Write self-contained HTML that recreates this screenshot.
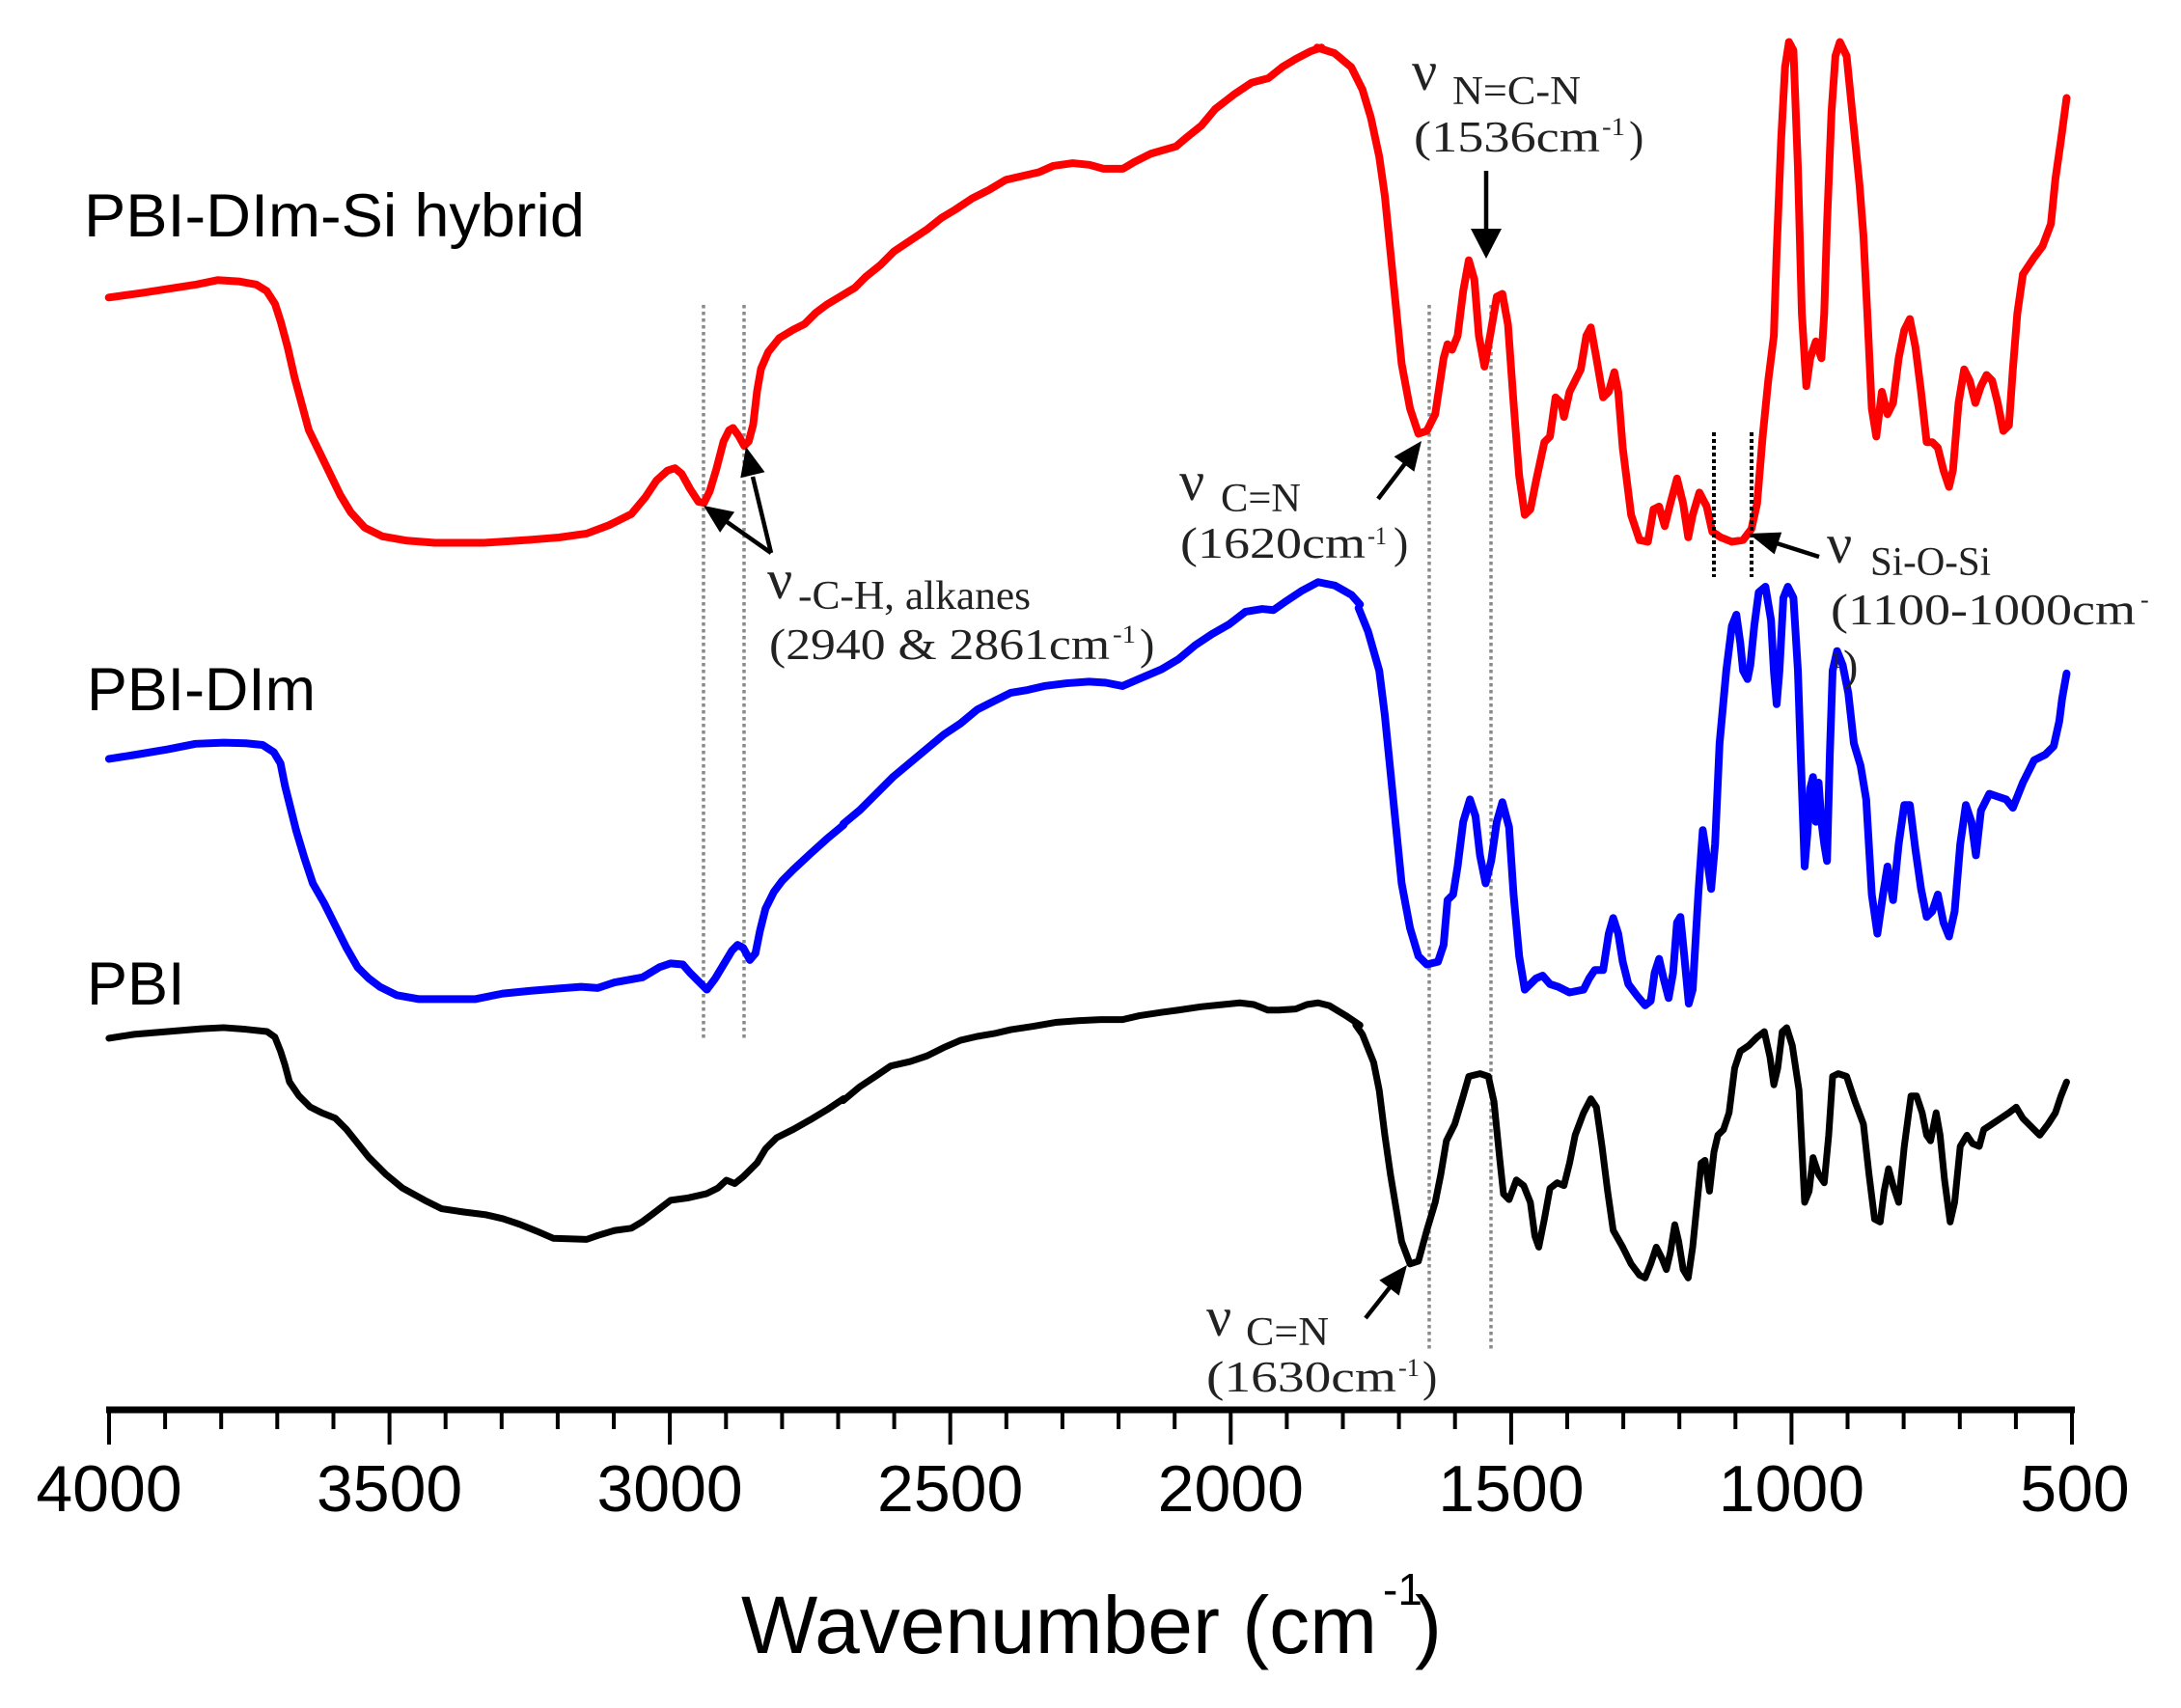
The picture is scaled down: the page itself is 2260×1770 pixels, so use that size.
<!DOCTYPE html>
<html><head><meta charset="utf-8"><style>
html,body{margin:0;padding:0;background:#fff;}
svg{display:block;}
.sans{font-family:"Liberation Sans",Arial,sans-serif;}
.ser{font-family:"Liberation Serif","Times New Roman",serif;fill:#222;}
.cv{fill:none;stroke-linejoin:round;stroke-linecap:round;}
</style></head><body>
<svg width="2260" height="1770" viewBox="0 0 2260 1770" xmlns="http://www.w3.org/2000/svg">
<rect width="2260" height="1770" fill="#fff"/>

<g stroke="#8a8a8a" stroke-width="3.5" stroke-dasharray="3.5 3.5" fill="none">
<line x1="729" y1="316" x2="729" y2="1079"/>
<line x1="771" y1="316" x2="771" y2="1079"/>
<line x1="1481" y1="316" x2="1481" y2="1398"/>
<line x1="1545" y1="316" x2="1545" y2="1398"/>
</g>

<!-- RED -->
<g class="cv" stroke="#ff0000">
<path stroke-width="8" d="M112.7,308.3 L145.4,303.8 174.5,299.3 203.6,294.8 225.4,290.3 247.2,291.6 265.4,294.8 276.3,301.5 285,315 290.8,333 298.1,360 305.3,391.5 312.6,418.5 319.9,445.5 330.8,468 341.7,490.5 352.6,513 363.5,531 378,546.8 396.2,555.8 421.7,560.3 450.7,562.5 501.6,562.5 549.6,559.4"/>
<path stroke-width="13.8" transform="translate(550,0) scale(0.579)" d="M0,966 L50,962 100,955 140,940 180,920 205,890 225,860 245,842 258,838 270,848 285,875 300,898 310,900 320,880 332,840 345,790 355,770 362,766 372,780 382,798 390,790 398,760 405,700 412,660 425,630 445,605 470,590 490,580 510,560 530,545 555,530 580,515 600,495 625,475 650,450 680,430 710,410 735,390 760,375 790,355 820,340 850,322 880,315 910,308 935,297 970,292 1000,295 1025,302 1060,302 1080,290 1110,275 1155,262 1175,245 1200,225 1225,195 1260,168 1290,148 1320,140 1345,120 1370,105 1395,92 1415,85"/>
<path stroke-width="13.8" transform="translate(1348,0) scale(0.58)" d="M29,85 L60,95 90,120 110,160 125,210 140,280 150,350 160,450 170,550 180,650 195,730 210,775 225,770 240,740 255,640 262,615 270,625 280,600 290,520 300,465 310,500 318,600 328,655 338,600 350,530 360,525 370,580 380,720 390,850 400,920 410,910 420,860 435,790 445,780 455,710 465,720 470,745 480,700 490,680 500,660 510,600 518,585 528,640 540,710 550,700 560,665 567,700 575,800 590,920 605,965 620,968 630,910 640,905 650,940 660,900 672,855 683,900 692,960 700,920 712,880 725,905 735,950 750,960 770,968 790,965 805,945 815,900 825,780 835,680 845,600 850,450 858,250 865,120 872,75 880,90 888,300 895,560 903,690 910,640 920,610 930,640 935,560 940,400 948,200 955,100 963,75 975,100 985,200 998,330 1005,420 1012,560 1020,730 1028,780 1038,700 1048,740 1058,720 1068,640 1078,590 1088,570 1098,620 1108,700 1118,790 1128,790 1138,800 1148,840 1158,870 1165,840 1175,720 1185,660 1195,680 1205,720 1215,690 1225,670 1235,680 1245,720 1255,770 1265,760 1272,660 1280,560 1290,490 1310,460 1325,440 1340,400 1348,320 1358,250 1368,175"/>
</g>

<!-- BLUE -->
<g class="cv" stroke="#0000ff">
<path stroke-width="13.8" transform="translate(0,600) scale(0.579)" d="M195,322 L240,315 300,305 350,295 400,293 440,294 470,297 490,310 502,330 510,370 520,410 530,450 545,500 560,545 580,580 600,620 620,660 640,695 660,715 680,730 710,745 750,752 850,752 900,742 950,737 1000,733 1040,730 1070,732 1100,722 1150,713 1180,695 1200,688 1222,690 1235,705 1250,720 1265,735 1280,715 1295,690 1310,665 1320,655 1330,660 1342,682 1352,670 1360,630 1370,590 1385,560 1400,540 1420,520 1450,492 1480,465 1510,440"/>
<path stroke-width="13.8" transform="translate(700,550) scale(0.579)" d="M300,525 L330,500 360,470 390,440 420,415 450,390 480,365 510,345 540,320 570,305 600,290 630,285 660,278 700,273 740,270 770,272 800,278 830,265 870,248 900,230 930,205 960,185 990,168 1020,145 1050,140 1070,142 1090,128 1120,108 1150,92 1180,98 1210,115 1225,132"/>
<path stroke-width="13.8" transform="translate(1348,550) scale(0.58)" d="M103,138 L120,180 140,250 150,330 160,430 170,530 180,630 195,710 210,760 225,775 245,770 255,740 262,660 272,650 280,600 290,520 302,480 312,510 320,580 330,630 340,590 350,520 360,485 372,530 380,650 390,760 400,820 420,800 432,795 445,810 460,815 480,825 505,820 515,800 525,785 540,785 550,720 558,692 567,720 575,770 585,810 600,830 615,848 625,840 632,790 640,765 648,800 657,835 665,790 672,700 678,690 685,760 693,845 700,820 710,650 718,535 725,580 733,640 740,560 748,380 760,250 770,170 778,150 785,200 790,250 798,265 803,240 810,170 818,110 830,100 840,160 845,250 850,310 855,250 862,120 870,100 880,120 888,250 893,400 900,600 905,540 910,460 915,440 920,520 925,450 930,520 935,560 940,590 945,400 950,250 958,215 968,240 978,290 988,380 1000,420 1010,480 1020,650 1030,720 1040,650 1048,600 1058,660 1068,560 1078,490 1088,490 1098,570 1108,640 1118,690 1128,680 1138,650 1148,700 1158,725 1168,680 1178,560 1188,490 1198,520 1206,580 1215,500 1230,470 1245,475 1260,480 1272,495 1290,450 1310,410 1330,400 1345,385 1355,340 1360,300 1368,255"/>
</g>

<!-- BLACK -->
<g class="cv" stroke="#000">
<path stroke-width="12.1" transform="translate(0,600) scale(0.579)" d="M195,822 L240,815 300,810 360,805 400,803 440,806 478,810 492,820 502,845 510,870 518,900 535,925 555,945 575,955 600,965 620,985 640,1010 660,1035 690,1065 720,1090 760,1112 790,1127 830,1133 870,1138 900,1145 930,1155 960,1167 990,1180 1050,1182 1070,1175 1100,1166 1130,1162 1150,1150 1170,1135 1200,1112 1230,1108 1265,1100 1285,1090 1300,1076 1315,1082 1330,1070 1355,1045 1370,1020 1390,1000 1420,985 1450,968 1480,950 1510,930"/>
<path stroke-width="12.1" transform="translate(700,550) scale(0.579)" d="M300,1020 L330,995 360,975 385,958 420,950 450,940 480,925 510,912 540,905 570,900 600,893 640,887 680,880 720,877 760,875 800,875 830,868 870,862 900,858 940,852 980,848 1010,845 1035,848 1060,858 1080,858 1110,856 1130,848 1150,845 1170,850 1200,868 1225,885"/>
<path stroke-width="12.1" transform="translate(1348,550) scale(0.58)" d="M98,883 L110,900 130,950 140,1000 150,1080 160,1150 170,1210 180,1270 195,1310 210,1305 225,1250 240,1200 250,1150 260,1090 275,1060 290,1010 300,975 320,970 335,975 345,1020 355,1120 362,1185 372,1195 385,1160 398,1170 410,1200 418,1260 425,1280 435,1230 445,1175 458,1165 470,1170 480,1130 490,1080 505,1040 518,1015 528,1030 538,1100 548,1180 558,1250 575,1280 590,1310 605,1330 615,1335 625,1310 635,1280 645,1300 653,1320 660,1290 668,1240 675,1270 683,1320 692,1335 700,1280 708,1200 715,1130 722,1125 730,1180 738,1110 745,1080 755,1070 765,1040 775,960 785,930 800,920 815,905 828,895 838,940 845,990 852,960 860,895 868,888 878,920 890,1000 895,1100 900,1200 908,1180 915,1120 925,1150 935,1165 943,1080 950,975 960,970 975,975 990,1020 1005,1060 1015,1150 1025,1230 1035,1235 1042,1180 1050,1140 1058,1170 1068,1200 1078,1100 1090,1010 1100,1010 1110,1040 1118,1080 1125,1090 1135,1040 1142,1080 1150,1160 1160,1235 1168,1200 1178,1100 1190,1080 1200,1095 1212,1100 1220,1070 1235,1060 1250,1050 1265,1040 1278,1030 1290,1050 1305,1065 1320,1080 1335,1060 1348,1040 1358,1010 1368,985"/>
</g>

<g stroke="#000" stroke-width="4" stroke-dasharray="4 3" fill="none">
<line x1="1776" y1="448" x2="1776" y2="598"/>
<line x1="1815" y1="448" x2="1815" y2="598"/>
</g>

<!-- arrows -->
<g stroke="#000" stroke-width="4.5" stroke-linecap="butt" fill="none">
<line x1="1540" y1="177" x2="1540" y2="240"/>
<line x1="1428" y1="517" x2="1457" y2="479"/>
<line x1="799" y1="573" x2="752" y2="540"/>
<line x1="799" y1="573" x2="780" y2="494"/>
<line x1="1415" y1="1366" x2="1441" y2="1333"/>
<line x1="1885" y1="577" x2="1841" y2="563"/>
</g>
<g fill="#000">
<polygon points="1540,268 1524,237 1556,237"/>
<polygon points="1473,457 1465.4,488.8 1444.6,473.2"/>
<polygon points="729,524 761.1,530.5 746.1,551.9"/>
<polygon points="773,463 792.5,489.2 767.3,495.2"/>
<polygon points="1458,1311 1449.7,1342.6 1429.3,1326.6"/>
<polygon points="1812,553 1846.2,551.6 1838.7,574.4"/>
</g>

<!-- annotations -->
<g class="ser">
<text x="1463" y="93" font-size="58">ν</text>
<text x="1505" y="108" font-size="42" textLength="133" lengthAdjust="spacingAndGlyphs">N=C-N</text>
<text x="1465" y="157" font-size="46" textLength="193" lengthAdjust="spacingAndGlyphs">(1536cm</text>
<text x="1660" y="140" font-size="26" textLength="24" lengthAdjust="spacingAndGlyphs">-1</text>
<text x="1688" y="157" font-size="46">)</text>

<text x="1222" y="518" font-size="58">ν</text>
<text x="1265" y="530" font-size="42" textLength="83" lengthAdjust="spacingAndGlyphs">C=N</text>
<text x="1223" y="578" font-size="46" textLength="192" lengthAdjust="spacingAndGlyphs">(1620cm</text>
<text x="1417" y="564" font-size="26" textLength="20" lengthAdjust="spacingAndGlyphs">-1</text>
<text x="1444" y="578" font-size="46">)</text>

<text x="795" y="620" font-size="58">ν</text>
<text x="827" y="631" font-size="42" textLength="241" lengthAdjust="spacingAndGlyphs">-C-H, alkanes</text>
<text x="797" y="683" font-size="46" textLength="353" lengthAdjust="spacingAndGlyphs">(2940 &amp; 2861cm</text>
<text x="1153" y="666" font-size="26" textLength="24" lengthAdjust="spacingAndGlyphs">-1</text>
<text x="1181" y="683" font-size="46">)</text>

<text x="1250" y="1384" font-size="58">ν</text>
<text x="1291" y="1394" font-size="42" textLength="86" lengthAdjust="spacingAndGlyphs">C=N</text>
<text x="1250" y="1442" font-size="46" textLength="197" lengthAdjust="spacingAndGlyphs">(1630cm</text>
<text x="1449" y="1426" font-size="26" textLength="22" lengthAdjust="spacingAndGlyphs">-1</text>
<text x="1474" y="1442" font-size="46">)</text>

<text x="1893" y="583" font-size="58">ν</text>
<text x="1938" y="596" font-size="42" textLength="125" lengthAdjust="spacingAndGlyphs">Si-O-Si</text>
<text x="1897" y="647" font-size="46" textLength="316" lengthAdjust="spacingAndGlyphs">(1100-1000cm</text>
<text x="2218" y="630" font-size="26">-</text>
<text x="1897" y="692" font-size="24">1</text>
<text x="1910" y="705" font-size="46">)</text>
</g>

<!-- series labels -->
<g class="sans" fill="#000">
<text x="87" y="245" font-size="63" textLength="519" lengthAdjust="spacingAndGlyphs">PBI-DIm-Si hybrid</text>
<text x="90" y="736" font-size="63" textLength="237" lengthAdjust="spacingAndGlyphs">PBI-DIm</text>
<text x="90" y="1041" font-size="63">PBI</text>
</g>

<!-- x axis -->
<line x1="110" y1="1461" x2="2150" y2="1461" stroke="#000" stroke-width="7"/>
<g stroke="#000" stroke-width="4">
<line x1="113" y1="1461" x2="113" y2="1497"/>
<line x1="171.1" y1="1461" x2="171.1" y2="1481"/>
<line x1="229.2" y1="1461" x2="229.2" y2="1481"/>
<line x1="287.3" y1="1461" x2="287.3" y2="1481"/>
<line x1="345.5" y1="1461" x2="345.5" y2="1481"/>
<line x1="403.6" y1="1461" x2="403.6" y2="1497"/>
<line x1="461.7" y1="1461" x2="461.7" y2="1481"/>
<line x1="519.8" y1="1461" x2="519.8" y2="1481"/>
<line x1="577.9" y1="1461" x2="577.9" y2="1481"/>
<line x1="636" y1="1461" x2="636" y2="1481"/>
<line x1="694.1" y1="1461" x2="694.1" y2="1497"/>
<line x1="752.3" y1="1461" x2="752.3" y2="1481"/>
<line x1="810.4" y1="1461" x2="810.4" y2="1481"/>
<line x1="868.5" y1="1461" x2="868.5" y2="1481"/>
<line x1="926.6" y1="1461" x2="926.6" y2="1481"/>
<line x1="984.7" y1="1461" x2="984.7" y2="1497"/>
<line x1="1042.8" y1="1461" x2="1042.8" y2="1481"/>
<line x1="1100.9" y1="1461" x2="1100.9" y2="1481"/>
<line x1="1159.1" y1="1461" x2="1159.1" y2="1481"/>
<line x1="1217.2" y1="1461" x2="1217.2" y2="1481"/>
<line x1="1275.3" y1="1461" x2="1275.3" y2="1497"/>
<line x1="1333.4" y1="1461" x2="1333.4" y2="1481"/>
<line x1="1391.5" y1="1461" x2="1391.5" y2="1481"/>
<line x1="1449.6" y1="1461" x2="1449.6" y2="1481"/>
<line x1="1507.7" y1="1461" x2="1507.7" y2="1481"/>
<line x1="1565.9" y1="1461" x2="1565.9" y2="1497"/>
<line x1="1624" y1="1461" x2="1624" y2="1481"/>
<line x1="1682.1" y1="1461" x2="1682.1" y2="1481"/>
<line x1="1740.2" y1="1461" x2="1740.2" y2="1481"/>
<line x1="1798.3" y1="1461" x2="1798.3" y2="1481"/>
<line x1="1856.4" y1="1461" x2="1856.4" y2="1497"/>
<line x1="1914.5" y1="1461" x2="1914.5" y2="1481"/>
<line x1="1972.6" y1="1461" x2="1972.6" y2="1481"/>
<line x1="2030.8" y1="1461" x2="2030.8" y2="1481"/>
<line x1="2088.9" y1="1461" x2="2088.9" y2="1481"/>
<line x1="2147" y1="1461" x2="2147" y2="1497"/>
</g>
<g class="sans" font-size="68" text-anchor="middle" fill="#000">
<text x="113" y="1566">4000</text>
<text x="403.6" y="1566">3500</text>
<text x="694.1" y="1566">3000</text>
<text x="984.7" y="1566">2500</text>
<text x="1275.3" y="1566">2000</text>
<text x="1565.9" y="1566">1500</text>
<text x="1856.4" y="1566">1000</text>
<text x="2150" y="1566">500</text>
</g>
<g class="sans" fill="#000">
<text x="768" y="1713" font-size="84" textLength="659" lengthAdjust="spacingAndGlyphs">Wavenumber (cm</text>
<text x="1433" y="1663" font-size="46">-1</text>
<text x="1466" y="1713" font-size="84">)</text>
</g>
</svg>
</body></html>
